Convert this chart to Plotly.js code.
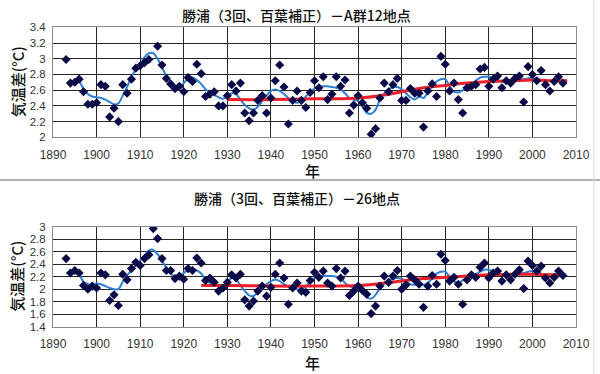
<!DOCTYPE html>
<html>
<head>
<meta charset="utf-8">
<script src="https://cdn.plot.ly/plotly-3.0.1.min.js"></script>
<style>
html,body{margin:0;padding:0;background:#fff;}
#chart{width:600px;height:374px;}
</style>
</head>
<body>
<div id="chart"></div>
<script>
// ---------- Data: top chart (A群12地点) ----------
const yearsA = [1893,1894,1895,1896,1897,1898,1899,1900,1901,1902,1903,1904,1905,1906,1907,1908,1909,1910,1911,1912,
  1914,1915,1916,1917,1918,1919,1920,1921,1922,1923,1924,1925,1926,1927,1928,1929,1930,1931,1932,1933,1934,1935,
  1936,1937,1938,1939,1940,1941,1942,1943,1944,1945,1946,1947,1948,1949,1950,1951,1952,1953,1954,1955,1956,1957,
  1958,1959,1960,1961,1962,1963,1964,1965,1966,1967,1968,1969,1970,1971,1972,1973,1974,1975,1976,1977,1978,1979,
  1980,1981,1982,1983,1984,1985,1986,1987,1988,1989,1990,1991,1992,1993,1994,1995,1996,1997,1998,1999,2000,2001,
  2002,2003,2004,2005,2006,2007];
const valuesA = [2.99,2.69,2.70,2.74,2.58,2.42,2.42,2.44,2.67,2.65,2.26,2.37,2.20,2.67,2.56,2.74,2.88,2.91,2.95,2.99,
  3.16,2.92,2.75,2.68,2.62,2.65,2.58,2.76,2.71,2.93,2.81,2.52,2.55,2.58,2.40,2.40,2.53,2.67,2.59,2.69,2.31,2.21,
  2.31,2.47,2.53,2.31,2.50,2.72,2.92,2.64,2.17,2.47,2.59,2.47,2.38,2.57,2.72,2.63,2.77,2.48,2.55,2.77,2.65,2.73,
  2.31,2.41,2.53,2.44,2.37,2.04,2.11,2.50,2.69,2.58,2.67,2.75,2.47,2.47,2.62,2.56,2.56,2.13,2.59,2.68,2.52,3.03,
  2.93,2.59,2.69,2.48,2.31,2.63,2.65,2.67,2.87,2.89,2.65,2.74,2.78,2.63,2.72,2.69,2.75,2.78,2.45,2.90,2.80,2.72,
  2.85,2.67,2.59,2.71,2.77,2.69];

const smoothYears = [1896,1897,1898,1899,1900,1901,1902,1903,1904,1905,1906,1907,1908,1909,1910,1911,1912,1913,1914,1915,
  1916,1917,1918,1919,1920,1921,1922,1923,1924,1925,1926,1927,1928,1929,1930,1931,1932,1933,1934,1935,1936,1937,
  1938,1939,1940,1941,1942,1943,1944,1945,1946,1947,1948,1949,1950,1951,1952,1953,1954,1955,1956,1957,1958,1959,
  1960,1961,1962,1963,1964,1965,1966,1967,1968,1969,1970,1971,1972,1973,1974,1975,1976,1977,1978,1979,1980,1981,
  1982,1983,1984,1985,1986,1987,1988,1989,1990,1991,1992,1993,1994,1995,1996,1997,1998,1999,2000,2001,2002];
const smoothA = [2.72,2.62,2.55,2.52,2.51,2.50,2.48,2.45,2.42,2.43,2.53,2.64,2.77,2.86,2.93,3.02,3.07,3.07,3.00,2.89,
  2.78,2.70,2.65,2.64,2.69,2.75,2.76,2.73,2.68,2.61,2.57,2.54,2.51,2.49,2.52,2.56,2.55,2.48,2.41,2.37,2.35,2.39,
  2.46,2.53,2.59,2.61,2.59,2.55,2.50,2.46,2.44,2.46,2.52,2.57,2.62,2.64,2.65,2.65,2.64,2.63,2.61,2.56,2.50,2.48,
  2.46,2.39,2.31,2.30,2.35,2.48,2.56,2.61,2.64,2.64,2.61,2.56,2.51,2.48,2.52,2.50,2.57,2.65,2.71,2.74,2.74,2.65,
  2.58,2.57,2.60,2.65,2.68,2.72,2.76,2.77,2.77,2.75,2.73,2.71,2.70,2.71,2.72,2.73,2.74,2.75,2.76,2.74,2.73];

const trendYearsA = [1930,1940,1950,1955,1960,1965,1970,1975,1980,1985,1990,1995,2000,2005,2008];
const trendA = [2.48,2.48,2.49,2.49,2.50,2.53,2.58,2.63,2.66,2.69,2.71,2.72,2.73,2.72,2.72];

// ---------- Data: bottom chart (26地点) ----------
const yearsB = [1893,1894,1895,1896,1897,1898,1899,1900,1901,1902,1903,1904,1905,1906,1907,1908,1909,1910,1911,1912,
  1913,1914,1915,1916,1917,1918,1919,1920,1921,1922,1923,1924,1925,1926,1927,1928,1929,1930,1931,1932,1933,1934,
  1935,1936,1937,1938,1939,1940,1941,1942,1943,1944,1945,1946,1947,1948,1949,1950,1951,1952,1953,1954,1955,1956,
  1957,1958,1959,1960,1961,1962,1963,1964,1965,1966,1967,1968,1969,1970,1971,1972,1973,1974,1975,1976,1977,1978,
  1979,1980,1981,1982,1983,1984,1985,1986,1987,1988,1989,1990,1991,1992,1993,1994,1995,1996,1997,1998,1999,2000,
  2001,2002,2003,2004,2005,2006,2007];
const valuesB = [2.49,2.26,2.30,2.26,2.06,2.00,2.05,2.02,2.26,2.23,1.82,1.91,1.74,2.24,2.15,2.33,2.43,2.38,2.49,2.55,
  2.97,2.81,2.49,2.30,2.30,2.17,2.21,2.16,2.33,2.30,2.50,2.42,2.14,2.18,2.11,1.97,2.02,2.11,2.23,2.18,2.24,1.83,
  1.73,1.81,1.97,2.05,1.89,2.03,2.24,2.42,2.18,1.76,2.02,2.10,1.97,1.95,2.14,2.27,2.19,2.29,2.10,2.05,2.33,2.18,
  2.29,1.90,1.97,2.05,1.98,1.92,1.61,1.73,2.05,2.21,2.11,2.21,2.30,2.00,2.07,2.21,2.15,2.08,1.71,2.05,2.22,2.08,
  2.56,2.46,2.13,2.19,2.08,1.76,2.15,2.23,2.19,2.35,2.42,2.18,2.26,2.29,2.13,2.23,2.15,2.24,2.31,2.01,2.45,2.38,
  2.29,2.37,2.18,2.10,2.19,2.29,2.22];

const smoothB = [2.25,2.12,2.08,2.07,2.09,2.08,2.05,2.02,2.00,2.00,2.12,2.22,2.30,2.38,2.46,2.54,2.62,2.63,2.56,2.46,
  2.34,2.25,2.20,2.20,2.26,2.31,2.33,2.30,2.25,2.16,2.10,2.07,2.05,2.06,2.10,2.19,2.16,2.06,1.97,1.90,1.89,1.95,
  2.02,2.08,2.13,2.15,2.13,2.08,2.04,2.02,2.00,2.00,2.05,2.12,2.18,2.21,2.21,2.21,2.21,2.20,2.18,2.10,2.05,2.03,
  2.01,1.94,1.87,1.85,1.91,2.02,2.10,2.14,2.17,2.18,2.17,2.12,2.08,2.07,2.09,2.07,2.10,2.18,2.25,2.28,2.28,2.20,
  2.12,2.10,2.14,2.18,2.20,2.24,2.28,2.31,2.31,2.28,2.25,2.23,2.22,2.22,2.23,2.25,2.26,2.28,2.29,2.29,2.26];

const trendYearsB = [1924,1930,1940,1950,1960,1965,1970,1975,1980,1985,1990,1995,2000,2007];
const trendB = [2.06,2.06,2.05,2.05,2.06,2.09,2.13,2.17,2.19,2.21,2.23,2.24,2.24,2.23];

// ---------- Text ----------
const titleA = '勝浦（3回、百葉補正）－A群12地点';
const titleB = '勝浦（3回、百葉補正）－26地点';
const yTitle = '気温差(°C)';
const xTitle = '年';

// ---------- Styles ----------
const markerColor = '#0a0a48';
const smoothColor = '#2f7fd6';
const trendColor = '#ea1f2a';
const gridColor = '#262626';
const jpFont = '"Noto Sans CJK JP", "Noto Sans", sans-serif';
const tickFont = {family: 'Liberation Sans, Arial, sans-serif', size: 12, color: '#333'};

function pts(x, y, xa, ya) {
  return {x: x, y: y, xaxis: xa, yaxis: ya, type: 'scatter', mode: 'markers',
    marker: {symbol: 'diamond', size: 7, color: markerColor}, hoverinfo: 'x+y'};
}
function line(x, y, xa, ya, color, w) {
  return {x: x, y: y, xaxis: xa, yaxis: ya, type: 'scatter', mode: 'lines',
    line: {color: color, width: w, shape: 'spline', smoothing: 0.8}};
}

const data = [
  line(smoothYears, smoothA, 'x', 'y', smoothColor, 2),
  line(trendYearsA, trendA, 'x', 'y', trendColor, 3),
  pts(yearsA, valuesA, 'x', 'y'),
  line(smoothYears, smoothB, 'x2', 'y2', smoothColor, 2),
  line(trendYearsB, trendB, 'x2', 'y2', trendColor, 3),
  pts(yearsB, valuesB, 'x2', 'y2')
];

function xAxis(anchor) {
  return {anchor: anchor, domain: [0, 1], range: [1890, 2010], tick0: 1890, dtick: 10,
    showgrid: true, gridcolor: gridColor, gridwidth: 1, zeroline: false,
    showline: true, mirror: true, linecolor: '#8a8a8a', linewidth: 1,
    ticks: 'outside', ticklen: 6, tickcolor: 'rgba(0,0,0,0)', tickfont: tickFont, fixedrange: true};
}
function yAxis(anchor, domain, range) {
  return {anchor: anchor, domain: domain, range: range, dtick: 0.2, tick0: 0,
    showgrid: true, gridcolor: gridColor, gridwidth: 1, zeroline: false,
    showline: true, mirror: true, linecolor: '#8a8a8a', linewidth: 1,
    ticks: 'outside', ticklen: 4, tickcolor: 'rgba(0,0,0,0)',
    tickfont: {family: tickFont.family, size: 11.5, color: '#333'}, fixedrange: true};
}

function note(text, x, y, size, angle, weight) {
  return {text: text, xref: 'paper', yref: 'paper', x: x, y: y, xanchor: 'center', yanchor: 'middle',
    textangle: angle || 0, showarrow: false,
    font: {family: jpFont, size: size, color: '#111', weight: weight || 500}};
}

const layout = {
  width: 600, height: 374,
  margin: {l: 53, r: 24, t: 27, b: 47},
  paper_bgcolor: '#fff', plot_bgcolor: '#fff',
  showlegend: false,
  xaxis: xAxis('y'),
  yaxis: yAxis('x', [0.6323, 0.999], [2, 3.4]),
  xaxis2: xAxis('y2'),
  yaxis2: yAxis('x2', [0.001, 0.3343], [1.4, 3]),
  annotations: [
    note(titleA, 0.4665, 1.04, 14),
    note(titleB, 0.4665, 0.43, 14),
    note(yTitle, -0.0688, 0.8157, 15, -90),
    note(yTitle, -0.0688, 0.1677, 15, -90),
    note(xTitle, 0.497, 0.523, 15),
    note(xTitle, 0.497, -0.1167, 15)
  ],
  shapes: [
    {type: 'line', xref: 'paper', yref: 'paper', x0: -0.11, x1: 1.046, y0: 0.49, y1: 0.49,
     line: {color: '#b0b0b0', width: 2}},
    {type: 'line', xref: 'paper', yref: 'paper', x0: 1.034, x1: 1.034, y0: -0.16, y1: 1.09,
     line: {color: '#d8d8d8', width: 1}}
  ]
};

Plotly.newPlot('chart', data, layout, {displayModeBar: false, staticPlot: true});
</script>
</body>
</html>
